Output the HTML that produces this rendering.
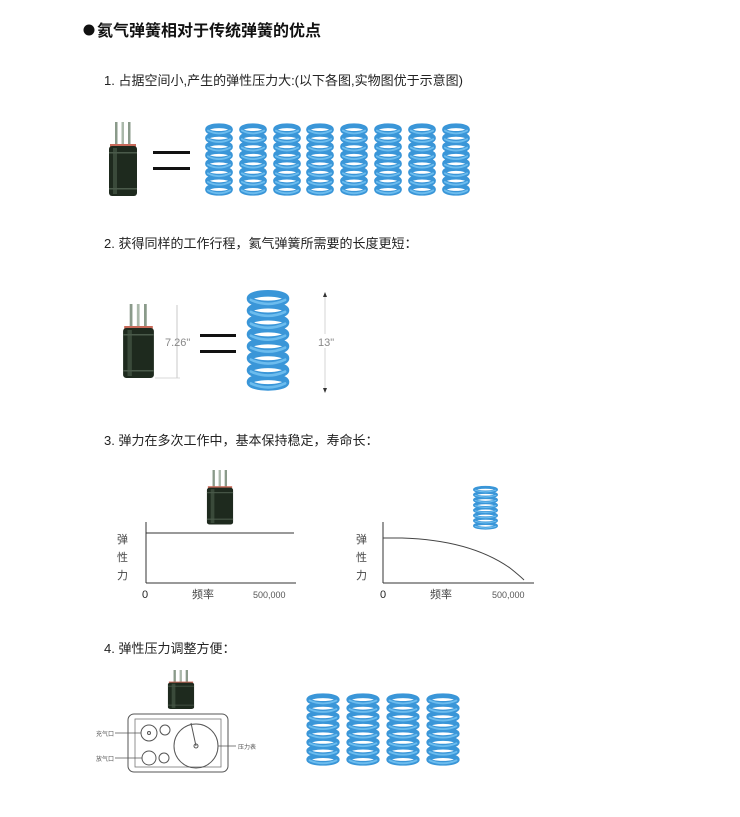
<!DOCTYPE html>
<html><head><meta charset="utf-8"><style>
html,body{margin:0;padding:0;background:#fff;}
svg{display:block;}
text{font-family:"Liberation Sans","Noto Sans CJK SC",sans-serif;}
</style></head><body>
<svg width="740" height="817" viewBox="0 0 740 817" xmlns="http://www.w3.org/2000/svg">
<defs>
<symbol id="spr" viewBox="0 0 40 80" preserveAspectRatio="none">
 <g fill="none" stroke-linecap="round">
  <g stroke="#3a96d8" stroke-width="5">
   <ellipse cx="20" cy="8" rx="16" ry="4"/>
   <ellipse cx="20" cy="17" rx="16" ry="4"/>
   <ellipse cx="20" cy="26" rx="16" ry="4"/>
   <ellipse cx="20" cy="35" rx="16" ry="4"/>
   <ellipse cx="20" cy="44" rx="16" ry="4"/>
   <ellipse cx="20" cy="53" rx="16" ry="4"/>
   <ellipse cx="20" cy="62" rx="16" ry="4"/>
   <ellipse cx="20" cy="71" rx="16" ry="4"/>
  </g>
  <g stroke="#6cbcee" stroke-width="2">
   <path d="M5 9 Q20 15 35 9"/><path d="M5 18 Q20 24 35 18"/><path d="M5 27 Q20 33 35 27"/><path d="M5 36 Q20 42 35 36"/>
   <path d="M5 45 Q20 51 35 45"/><path d="M5 54 Q20 60 35 54"/><path d="M5 63 Q20 69 35 63"/><path d="M5 72 Q20 78 35 72"/>
  </g>
 </g>
</symbol>
<symbol id="cyl" viewBox="0 0 30 76" preserveAspectRatio="none">
 <rect x="7" y="0" width="2.5" height="24" fill="#8a9a8a"/>
 <rect x="13.5" y="0" width="2.5" height="24" fill="#aab8aa"/>
 <rect x="20" y="0" width="2.5" height="24" fill="#8a9a8a"/>
 <rect x="2" y="22" width="26" height="3" fill="#c86a5a"/>
 <rect x="1" y="24" width="28" height="50" rx="3" fill="#1e2a1e"/>
 <rect x="5" y="26" width="4" height="46" fill="#3a4a3a"/>
 <rect x="1" y="30" width="28" height="1.5" fill="#4a5a4a"/>
 <rect x="1" y="66" width="28" height="1.5" fill="#4a5a4a"/>
</symbol>
</defs>

<circle cx="89" cy="30" r="5.5" fill="#111"/>
<text x="97" y="36" font-size="16" font-weight="bold" fill="#111">氦气弹簧相对于传统弹簧的优点</text>

<text x="104" y="85" font-size="13" fill="#222">1. 占据空间小,产生的弹性压力大:(以下各图,实物图优于示意图)</text>
<use href="#cyl" x="108" y="122" width="30" height="76"/>
<rect x="153" y="151" width="37" height="3" fill="#111"/>
<rect x="153" y="167" width="37" height="3" fill="#111"/>
<use href="#spr" x="204" y="122" width="30" height="76"/>
<use href="#spr" x="238" y="122" width="30" height="76"/>
<use href="#spr" x="272" y="122" width="30" height="76"/>
<use href="#spr" x="305" y="122" width="30" height="76"/>
<use href="#spr" x="339" y="122" width="30" height="76"/>
<use href="#spr" x="373" y="122" width="30" height="76"/>
<use href="#spr" x="407" y="122" width="30" height="76"/>
<use href="#spr" x="441" y="122" width="30" height="76"/>

<text x="104" y="248" font-size="13" fill="#222">2. 获得同样的工作行程，氦气弹簧所需要的长度更短：</text>
<use href="#cyl" x="122" y="304" width="33" height="76"/>
<line x1="177" y1="305" x2="177" y2="378" stroke="#bbb" stroke-width="0.8"/>
<line x1="155" y1="378" x2="180" y2="378" stroke="#ccc" stroke-width="0.8"/>
<text x="165" y="346" font-size="11" fill="#888" font-family="Liberation Serif">7.26"</text>
<rect x="200" y="334" width="36" height="3" fill="#111"/>
<rect x="200" y="350" width="36" height="3" fill="#111"/>
<use href="#spr" x="245" y="288" width="46" height="106"/>
<line x1="325" y1="295" x2="325" y2="392" stroke="#ccc" stroke-width="0.8"/>
<path d="M323 297 L325 292 L327 297Z M323 388 L325 393 L327 388Z" fill="#333"/>
<rect x="318" y="334" width="16" height="14" fill="#fff"/>
<text x="318" y="346" font-size="11" fill="#888" font-family="Liberation Serif">13"</text>

<text x="104" y="445" font-size="13" fill="#222">3. 弹力在多次工作中，基本保持稳定，寿命长：</text>
<use href="#cyl" x="206" y="470" width="28" height="56"/>
<line x1="146" y1="522" x2="146" y2="583" stroke="#333" stroke-width="1"/>
<line x1="146" y1="583" x2="296" y2="583" stroke="#333" stroke-width="1"/>
<line x1="146" y1="533" x2="294" y2="533" stroke="#333" stroke-width="1"/>
<text x="117" y="543" font-size="11" fill="#444">弹</text>
<text x="117" y="561" font-size="11" fill="#444">性</text>
<text x="117" y="579" font-size="11" fill="#444">力</text>
<text x="142" y="598" font-size="11" fill="#222">0</text>
<text x="192" y="598" font-size="11" fill="#444">频率</text>
<text x="253" y="598" font-size="9" fill="#555">500,000</text>

<use href="#spr" x="472" y="485" width="27" height="46"/>
<line x1="383" y1="522" x2="383" y2="583" stroke="#333" stroke-width="1"/>
<line x1="383" y1="583" x2="534" y2="583" stroke="#333" stroke-width="1"/>
<path d="M383 538 L402 538 Q470 540 510 568 Q520 576 524 580" fill="none" stroke="#444" stroke-width="1"/>
<text x="356" y="543" font-size="11" fill="#444">弹</text>
<text x="356" y="561" font-size="11" fill="#444">性</text>
<text x="356" y="579" font-size="11" fill="#444">力</text>
<text x="380" y="598" font-size="11" fill="#222">0</text>
<text x="430" y="598" font-size="11" fill="#444">频率</text>
<text x="492" y="598" font-size="9" fill="#555">500,000</text>

<text x="104" y="653" font-size="13" fill="#222">4. 弹性压力调整方便：</text>
<use href="#cyl" x="167" y="670" width="28" height="40"/>
<rect x="128" y="714" width="100" height="58" rx="6" fill="none" stroke="#555" stroke-width="1"/>
<rect x="135" y="719" width="86" height="48" fill="none" stroke="#777" stroke-width="0.8"/>
<circle cx="149" cy="733" r="8" fill="none" stroke="#555"/>
<circle cx="149" cy="733" r="1.5" fill="none" stroke="#555"/>
<circle cx="165" cy="730" r="5" fill="none" stroke="#555"/>
<circle cx="149" cy="758" r="7" fill="none" stroke="#555"/>
<circle cx="164" cy="758" r="5" fill="none" stroke="#555"/>
<circle cx="196" cy="746" r="22" fill="none" stroke="#555"/>
<line x1="196" y1="746" x2="191" y2="723" stroke="#555"/>
<circle cx="196" cy="746" r="2" fill="none" stroke="#555"/>
<line x1="115" y1="733" x2="141" y2="733" stroke="#555" stroke-width="0.8"/>
<line x1="115" y1="758" x2="142" y2="758" stroke="#555" stroke-width="0.8"/>
<line x1="218" y1="746" x2="236" y2="746" stroke="#555" stroke-width="0.8"/>
<text x="96" y="736" font-size="6" fill="#555">充气口</text>
<text x="96" y="761" font-size="6" fill="#555">放气口</text>
<text x="238" y="749" font-size="6" fill="#555">压力表</text>

<use href="#spr" x="305" y="692" width="36" height="76"/>
<use href="#spr" x="345" y="692" width="36" height="76"/>
<use href="#spr" x="385" y="692" width="36" height="76"/>
<use href="#spr" x="425" y="692" width="36" height="76"/>
</svg>
</body></html>
